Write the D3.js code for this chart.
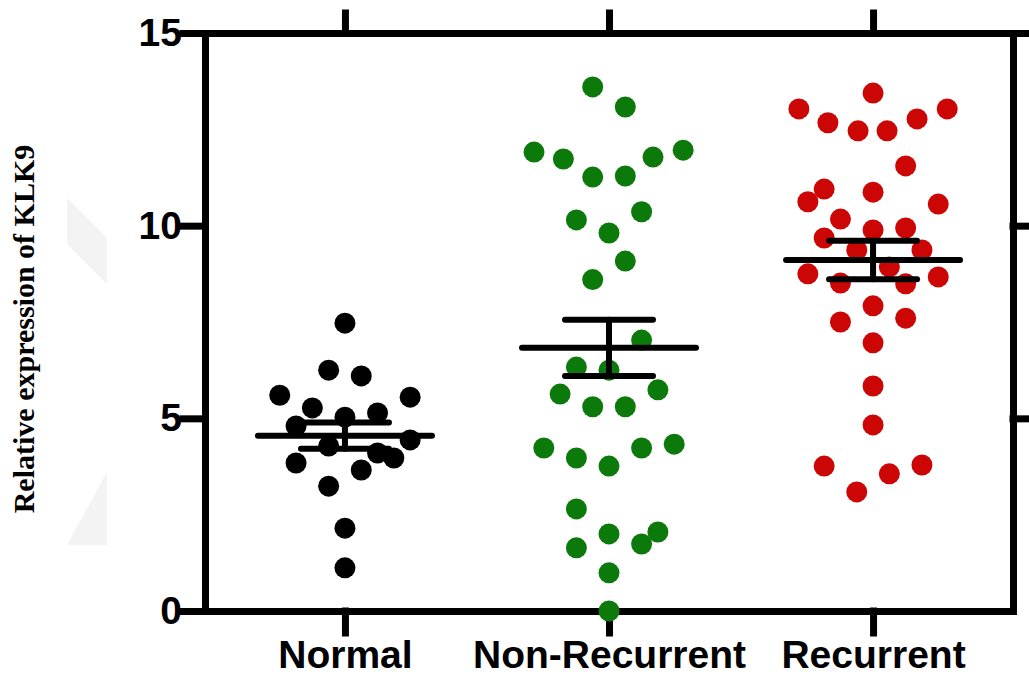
<!DOCTYPE html>
<html>
<head>
<meta charset="utf-8">
<script src="https://cdnjs.cloudflare.com/ajax/libs/d3/7.8.5/d3.min.js"></script>
<style>
    body { margin: 0; background: #fff; }
    .axis path, .axis line { stroke: #000; stroke-width: 7; stroke-linecap: square; }
    .axis text { font-family: "Liberation Sans", Arial, sans-serif; font-weight: bold; font-size: 39px; fill: #000; }
</style>
</head>
<body>
<script>
// group names and y ticks
const groups = ["Normal", "Non-Recurrent", "Recurrent"];
const yTicks = [0, 5, 10, 15];

// relative expression values, plus horizontal jitter slot of each dot
const normalValues = [7.47, 6.25, 6.1, 5.6, 5.55, 5.27, 5.03, 5.14, 4.8, 4.44, 4.28, 4.1, 3.97, 3.84, 3.66, 3.24, 2.15, 1.12];
const normalJitter = [0, -1, 1, -4, 4, -2, 0, 2, -3, 4, -1, 2, 3, -3, 1, -1, 0, 0];

const nonRecurrentValues = [13.6, 13.08, 11.91, 11.73, 11.26, 11.29, 11.78, 11.96, 10.15, 10.36, 9.81, 9.08, 8.6, 7.03,
    6.33, 6.25, 5.63, 5.74, 5.3, 5.3, 4.23, 3.97, 3.76, 4.23, 4.33, 2.65, 2.0, 1.64, 1.74, 2.05, 0.99, 0.0];
const nonRecurrentJitter = [-1, 1, -4.6, -2.8, -1, 1, 2.7, 4.55, -2, 2, 0, 1, -1, 2,
    -2, 0, -3, 3, -1, 1, -4, -2, 0, 2, 4, -2, 0, -2, 2, 3, 0, 0];

const recurrentValues = [13.44, 13.03, 12.67, 12.46, 12.46, 12.77, 13.03, 11.55, 10.95, 10.62, 10.87, 10.56, 10.17,
    9.68, 9.89, 9.94, 9.37, 9.37, 8.75, 8.93, 8.51, 8.49, 8.67, 7.92, 7.5, 7.6, 6.96, 5.84, 4.83, 3.76, 3.09, 3.56, 3.79];
const recurrentJitter = [0, -4.55, -2.77, -0.92, 0.86, 2.7, 4.55, 2, -3, -4, 0, 4, -2,
    -3, 0, 2, -1, 3, -4, 1, -2, 2, 4, 0, -2, 2, 0, 0, 0, -3, -1, 1, 3];

// mean +/- SEM per group
const groupMeans = [4.55, 6.83, 9.11];
const groupSem = [0.34, 0.73, 0.5];

(function () {
    const width = 1029;
    const height = 675;
    const colors = ["#000000", "#0b7a0b", "#cc0505"];

    let svg = d3.select("body")
        .append("svg")
        .attr("width", width)
        .attr("height", height);

    // faint watermark shapes at the left edge
    svg.append("polygon")
        .attr("points", "67,198 107,238 107,284 67,244")
        .attr("fill", "#f3f3f3");
    svg.append("polygon")
        .attr("points", "67,545 107,472 107,545")
        .attr("fill", "#f3f3f3");

    let x = d3.scalePoint()
        .domain(groups)
        .range([205, 1013])
        .padding(0.53);

    let y = d3.scaleLinear()
        .domain([0, 15])
        .range([611, 33]);

    let jitter = d3.scaleLinear()
        .domain([-1, 1])
        .range([-16.3, 16.3]);

    let points = [];
    [[normalValues, normalJitter], [nonRecurrentValues, nonRecurrentJitter], [recurrentValues, recurrentJitter]]
        .forEach((pair, i) => {
            pair[0].forEach((v, j) => points.push({group: groups[i], value: v, off: pair[1][j], color: colors[i]}));
        });

    // axes (frame)
    svg.append("g")
        .attr("class", "axis")
        .attr("transform", "translate(205,0)")
        .call(d3.axisLeft(y).tickValues(yTicks).tickSize(22).tickSizeOuter(0).tickPadding(1));

    svg.append("g")
        .attr("class", "axis")
        .attr("transform", "translate(1013,0)")
        .call(d3.axisRight(y).tickValues([5, 10, 15]).tickSize(20).tickSizeOuter(0).tickFormat(""));

    svg.append("g")
        .attr("class", "axis")
        .attr("transform", "translate(0,33)")
        .call(d3.axisTop(x).tickSize(20).tickSizeOuter(0).tickFormat(""));

    svg.append("g")
        .attr("class", "axis")
        .attr("transform", "translate(0,611)")
        .call(d3.axisBottom(x).tickSize(22).tickSizeOuter(0).tickPadding(7));

    // dots
    svg.selectAll(".dot")
        .data(points)
        .enter()
        .append("circle")
        .attr("class", "dot")
        .attr("cx", d => x(d.group) + jitter(d.off))
        .attr("cy", d => y(d.value))
        .attr("r", 10.5)
        .attr("fill", d => d.color);

    // mean and SEM bars
    let stats = groups.map((g, i) => ({group: g, mean: groupMeans[i], sem: groupSem[i]}));
    let bars = svg.selectAll(".bar")
        .data(stats)
        .enter()
        .append("g")
        .attr("class", "bar")
        .attr("stroke", "#000")
        .attr("stroke-width", 6)
        .attr("stroke-linecap", "round");

    bars.append("line")
        .attr("x1", d => x(d.group) - 87)
        .attr("x2", d => x(d.group) + 87)
        .attr("y1", d => y(d.mean))
        .attr("y2", d => y(d.mean));
    bars.append("line")
        .attr("x1", d => x(d.group))
        .attr("x2", d => x(d.group))
        .attr("y1", d => y(d.mean - d.sem))
        .attr("y2", d => y(d.mean + d.sem));
    bars.append("line")
        .attr("x1", d => x(d.group) - 44)
        .attr("x2", d => x(d.group) + 44)
        .attr("y1", d => y(d.mean + d.sem))
        .attr("y2", d => y(d.mean + d.sem));
    bars.append("line")
        .attr("x1", d => x(d.group) - 44)
        .attr("x2", d => x(d.group) + 44)
        .attr("y1", d => y(d.mean - d.sem))
        .attr("y2", d => y(d.mean - d.sem));

    // y title
    svg.append("text")
        .attr("transform", "translate(34,329) rotate(-90)")
        .attr("text-anchor", "middle")
        .style("font-family", "'Liberation Serif', 'Times New Roman', serif")
        .style("font-weight", "bold")
        .style("font-size", "30px")
        .text("Relative expression of KLK9");
})();
</script>
</body>
</html>
